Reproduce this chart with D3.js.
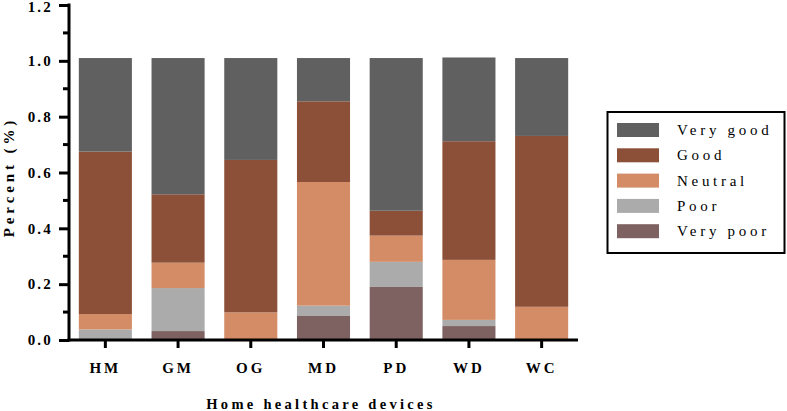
<!DOCTYPE html>
<html><head><meta charset="utf-8">
<script src="https://cdn.jsdelivr.net/npm/d3@7"></script>
<style>body{margin:0;background:#fff}svg{display:block}</style>
</head><body>
<script>
const categories = ["HM","GM","OG","MD","PD","WD","WC"];
const seriesNames = ["Very poor","Poor","Neutral","Good","Very good"];
const veryPoor = [0.000,0.032,0.000,0.086,0.190,0.050,0.000];
const poor     = [0.038,0.154,0.000,0.037,0.090,0.022,0.000];
const neutral  = [0.055,0.091,0.099,0.443,0.094,0.215,0.119];
const good     = [0.582,0.245,0.546,0.289,0.089,0.425,0.612];
const veryGood = [0.335,0.488,0.365,0.155,0.547,0.300,0.279];
const colors = ["#7e6262","#ababab","#d38c65","#8c4f37","#606060"];
const yTicks = [0,0.2,0.4,0.6,0.8,1.0,1.2];
const xTitle = "Home healthcare devices";
const yTitle = "Percent (%)";

const W=787,H=411;
const svg=d3.select("body").append("svg").attr("width",W).attr("height",H);
const x=d3.scaleBand().domain(categories).range([69,578]).paddingInner(0.27).paddingOuter(0.135);
const y=d3.scaleLinear().domain([0,1.2]).range([340,5]);

const rows=categories.map((c,i)=>({cat:c,"Very poor":veryPoor[i],"Poor":poor[i],"Neutral":neutral[i],"Good":good[i],"Very good":veryGood[i]}));
const stacked=d3.stack().keys(seriesNames)(rows);

svg.append("g").selectAll("g").data(stacked).join("g").attr("fill",(d,i)=>colors[i])
 .selectAll("rect").data(d=>d).join("rect")
 .attr("x",d=>x(d.data.cat)).attr("width",x.bandwidth())
 .attr("y",d=>y(d[1])).attr("height",d=>y(d[0])-y(d[1]));

const font="'Liberation Serif','Times New Roman',serif";
// Y axis
const yAx=svg.append("g").attr("transform","translate(69,0)")
 .call(d3.axisLeft(y).tickValues(yTicks).tickFormat(d3.format(".1f")).tickSize(10).tickPadding(6));
yAx.select(".domain").remove();
yAx.selectAll(".tick line").attr("stroke","#000").attr("stroke-width",3);
yAx.selectAll(".tick text").attr("font-family",font).attr("font-weight","bold").attr("font-size",15).attr("fill","#000").attr("letter-spacing","2.2px");
yAx.selectAll(".tick text").filter(d=>d===1.2).attr("dy","0.45em");
// minor ticks
svg.append("g").selectAll("line").data(d3.range(0.1,1.2,0.2)).join("line")
 .attr("x1",63).attr("x2",69).attr("y1",d=>y(d)).attr("y2",d=>y(d)).attr("stroke","#000").attr("stroke-width",3);
svg.append("line").attr("x1",69).attr("x2",69).attr("y1",y(1.2)-1.5).attr("y2",y(0)+1.5).attr("stroke","#000").attr("stroke-width",3);

// X axis
const xAx=svg.append("g").attr("transform","translate(0,340)")
 .call(d3.axisBottom(x).tickSize(8).tickPadding(14));
xAx.select(".domain").remove();
xAx.selectAll(".tick line").attr("stroke","#000").attr("stroke-width",3);
xAx.selectAll(".tick text").attr("font-family",font).attr("font-weight","bold").attr("font-size",15).attr("fill","#000").attr("letter-spacing","3px");
svg.append("line").attr("x1",67.5).attr("x2",578).attr("y1",340).attr("y2",340).attr("stroke","#000").attr("stroke-width",3);

svg.append("text").attr("x",321).attr("y",409).attr("text-anchor","middle")
 .attr("font-family",font).attr("font-weight","bold").attr("font-size",14.5).attr("letter-spacing","3.3px").text(xTitle);
svg.append("text").attr("transform","translate(14,177) rotate(-90)").attr("text-anchor","middle")
 .attr("font-family",font).attr("font-weight","bold").attr("font-size",15).attr("letter-spacing","3.9px").text(yTitle);

// Legend
const lg=svg.append("g");
lg.append("rect").attr("x",607.5).attr("y",112).attr("width",177).attr("height",141).attr("fill","none").attr("stroke","#000").attr("stroke-width",2);
const legOrder=seriesNames.slice().reverse();
legOrder.forEach((n,i)=>{
  const ci=seriesNames.indexOf(n);
  lg.append("rect").attr("x",617).attr("y",123+i*25.3).attr("width",42).attr("height",14).attr("fill",colors[ci]);
  lg.append("text").attr("x",677).attr("y",135+i*25.3).attr("font-family",font).attr("font-size",15).attr("letter-spacing","3.7px").attr("fill","#000").text(n);
});
</script>
</body></html>
